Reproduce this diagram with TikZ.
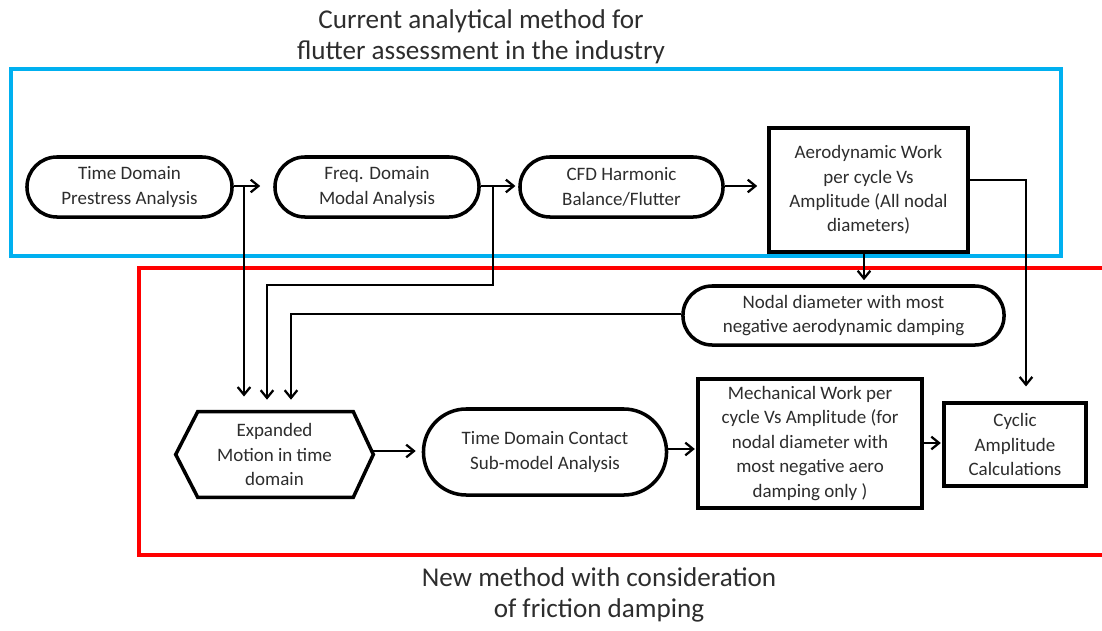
\documentclass[tikz,border=0pt]{standalone}
\usepackage{fontspec}
\setmainfont{Carlito}
\usetikzlibrary{arrows.meta,calc}
\definecolor{cyanb}{RGB}{0,176,240}
\definecolor{txt}{RGB}{45,45,45}
\tikzset{
  px/.style={x=0.025cm,y=-0.025cm},
  base/.style={draw=black,line width=2.5pt,align=center,text=txt,font=\fontsize{13.5}{17.4}\selectfont,inner sep=0pt},
  stad/.style={base,rounded corners=#1},
  boxn/.style={base},
  conn/.style={line width=1.6pt,draw=black},
  arr/.style={conn,-{Straight Barb[length=5.5pt,width=9pt,line width=1.6pt]}},
  ttl/.style={text=txt,align=center,font=\fontsize{19.3}{22}\selectfont},
  frameb/.style={line width=2.6pt},
}
\begin{document}
\begin{tikzpicture}[px]
\useasboundingbox (0,0) rectangle (1102,630);
\clip (0,0) rectangle (1102,630);
\fill[white] (0,0) rectangle (1102,630);
% frames
\draw[frameb,draw=cyanb] (11,69) rectangle (1061,256);
\draw[frameb,draw=red] (139,268) rectangle (1130,555);
% titles
\node[ttl] (t1) at (481,37) {Current analytical method for\\flutter assessment in the industry};
\node[ttl] (t2) at (599,595) {New method with consideration\\of friction damping};
% nodes
\node[stad=0.75cm,minimum width=5.125cm,minimum height=1.5cm] (pre) at (129.5,187) {Time Domain\\Prestress Analysis};
\node[stad=0.75cm,minimum width=5.1cm,minimum height=1.5cm] (freq) at (377,187) {Freq. Domain\\Modal Analysis};
\node[stad=0.75cm,minimum width=5.075cm,minimum height=1.5cm] (cfd) at (621.5,187) {CFD Harmonic\\Balance/Flutter};
\node[boxn,minimum width=4.975cm,minimum height=3.1cm] (aero) at (868.5,190) {Aerodynamic Work\\per cycle Vs\\Amplitude (All nodal\\diameters)};
\node[stad=0.73cm,minimum width=8.025cm,minimum height=1.475cm] (nodal) at (843.5,315.5) {Nodal diameter with most\\negative aerodynamic damping};
\node[align=center,text=txt,font=\fontsize{13.5}{17.4}\selectfont,minimum width=4.925cm,minimum height=2.125cm,inner sep=0pt] (exp) at (274.5,454.5) {Expanded\\Motion in time\\domain};
\draw[line width=2.5pt,line join=miter] (exp.west) -- ($(exp.north west)+(22,0)$) -- ($(exp.north east)+(-20,0)$) -- (exp.east) -- ($(exp.south east)+(-20,0)$) -- ($(exp.south west)+(22,0)$) -- cycle;
\node[stad=1.07cm,minimum width=6.075cm,minimum height=2.15cm] (tdc) at (545,452) {Time Domain Contact\\Sub-model Analysis};
\node[boxn,minimum width=5.6cm,minimum height=3.225cm] (mech) at (810,443.5) {Mechanical Work per\\cycle Vs Amplitude (for\\nodal diameter with\\most negative aero\\damping only )};
\node[boxn,minimum width=3.55cm,minimum height=2.075cm] (cyc) at (1015,444.5) {Cyclic\\Amplitude\\Calculations};
% helper coordinates
\coordinate (x244) at (244,0);
\coordinate (x267) at (267,0);
\coordinate (x291) at (291,0);
\coordinate (x493) at (493,0);
\coordinate (x864) at (864,0);
\coordinate (x1026) at (1026,0);
\coordinate (y180) at (0,180);
\coordinate (y186) at (0,186);
\coordinate (y314) at (0,314);
\coordinate (y451) at (0,451);
\coordinate (y449) at (0,449);
\coordinate (y443) at (0,443);
\coordinate (b1) at (pre.east |- y186);
\coordinate (b2) at (freq.east |- y186);
\coordinate (k1) at (493,285);
\coordinate (k2) at (267,285);
\coordinate (k4) at (1026,180);
\coordinate (a1) at (aero.east |- y180);
% connectors
\draw[arr,shorten >=0.325cm] (b1) -- (freq.west |- y186);
\draw[arr,shorten >=0.38cm] (x244 |- y186) -- (exp.north -| x244);
\draw[arr,shorten >=2pt] (b2) -- (cfd.west |- y186);
\draw[arr,shorten >=0.3cm] (x493 |- y186) -- (k1) -- (k2) -- (exp.north -| x267);
\draw[arr,shorten >=0.25cm] (cfd.east |- y186) -- (aero.west |- y186);
\draw[arr,shorten >=0.37cm] (a1) -- (k4) -- (cyc.north -| x1026);
\draw[arr,shorten >=0.1cm] (aero.south -| x864) -- (nodal.north -| x864);
\draw[arr,shorten >=0.3cm] (nodal.west |- y314) -- (x291 |- y314) -- (exp.north -| x291);
\draw[arr,shorten >=0.15cm] (exp.east |- y451) -- (tdc.west |- y451);
\draw[arr,shorten >=1pt] (tdc.east |- y449) -- (mech.west |- y449);
\draw[arr,shorten >=1pt] (mech.east |- y443) -- (cyc.west |- y443);
\end{tikzpicture}
\end{document}
